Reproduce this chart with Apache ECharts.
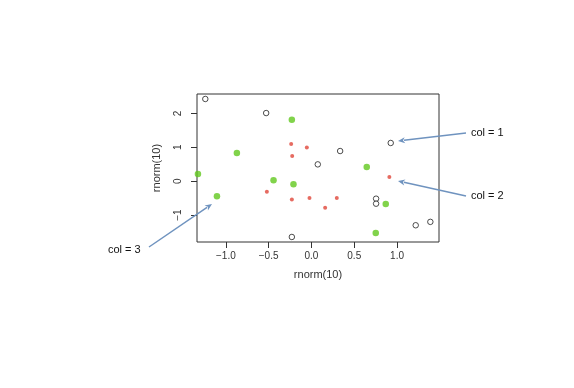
<!DOCTYPE html>
<html>
<head>
<meta charset="utf-8">
<script src="https://cdn.jsdelivr.net/npm/echarts@6/dist/echarts.min.js"></script>
<style>
html,body{margin:0;padding:0;background:#fff;}
#c{width:574px;height:388px;}
</style>
</head>
<body>
<div id="c"></div>
<script>
// col = 1 : black open circles
const blackX = [-1.240, -0.529, 0.926, 0.335, 0.074, 0.755, 0.755, 1.218, 1.389, -0.229];
const blackY = [2.425, 2.010, 1.127, 0.890, 0.496, -0.516, -0.664, -1.300, -1.200, -1.646];
// col = 2 : red dots
const redX = [-0.237, -0.225, -0.054, 0.910, -0.521, -0.229, -0.023, 0.296, 0.160];
const redY = [1.097, 0.743, 0.997, 0.124, -0.310, -0.537, -0.496, -0.496, -0.782];
// col = 3 : green dots
const greenX = [-0.229, -0.871, -1.326, -0.443, -0.210, -1.104, 0.646, 0.868, 0.751];
const greenY = [1.814, 0.832, 0.212, 0.024, -0.094, -0.448, 0.419, -0.673, -1.528];
// tick labels
const xTicks = [-1.0, -0.5, 0.0, 0.5, 1.0];
const yTicks = [-1, 0, 1, 2];
const annoTexts = ['col = 1', 'col = 2', 'col = 3'];

function pairs(xs, ys) { return xs.map((x, i) => [x, ys[i]]); }
const fmtX = v => (v < 0 ? '\u2212' : '') + Math.abs(v).toFixed(1);
const fmtY = v => (v < 0 ? '\u2212' : '') + Math.abs(v).toFixed(0);

const chart = echarts.init(document.getElementById('c'), null, {renderer: 'canvas'});

const axisFont = {fontFamily: 'Liberation Sans', fontSize: 10, color: '#333'};

const option = {
  backgroundColor: '#fff',
  animation: false,
  grid: {left: 197, right: 135, top: 94, bottom: 146, show: true, borderColor: '#333', borderWidth: 1, backgroundColor: 'transparent'},
  xAxis: {
    type: 'value', min: -1.337, max: 1.49,
    name: 'rnorm(10)', nameLocation: 'middle', nameGap: 27,
    nameTextStyle: {fontFamily: 'Liberation Sans', fontSize: 11, color: '#333'},
    axisLine: {show: false, onZero: false},
    splitLine: {show: false},
    axisTick: {show: true, inside: false, length: 6, customValues: xTicks, lineStyle: {color: '#333'}},
    axisLabel: Object.assign({margin: 9, customValues: xTicks, formatter: fmtX}, axisFont)
  },
  yAxis: {
    type: 'value', min: -1.794, max: 2.572,
    name: 'rnorm(10)', nameLocation: 'middle', nameGap: 35,
    nameTextStyle: {fontFamily: 'Liberation Sans', fontSize: 11, color: '#333'},
    axisLine: {show: false, onZero: false},
    splitLine: {show: false},
    axisTick: {show: true, inside: false, length: 6, customValues: yTicks, lineStyle: {color: '#333'}},
    axisLabel: Object.assign({margin: 14, rotate: 90, customValues: yTicks, formatter: fmtY}, axisFont)
  },
  series: [
    {type: 'scatter', name: 'col1', data: pairs(blackX, blackY), symbol: 'circle', symbolSize: 5.5,
     itemStyle: {color: '#fff', borderColor: '#222', borderWidth: 1}, z: 3},
    {type: 'scatter', name: 'col2', data: pairs(redX, redY), symbol: 'circle', symbolSize: 4,
     itemStyle: {color: '#e0463a'}, z: 3},
    {type: 'scatter', name: 'col3', data: pairs(greenX, greenY), symbol: 'circle', symbolSize: 6.5,
     itemStyle: {color: '#62c81e'}, z: 3, clip: true}
  ]
};
chart.setOption(option);

// Annotation arrows (callouts)
const annos = [
  {text: annoTexts[0], tx: 471, ty: 133, tail: [466, 133], head: [398, 141]},
  {text: annoTexts[1], tx: 471, ty: 196, tail: [466, 196], head: [398, 181]},
  {text: annoTexts[2], tx: 108, ty: 250, tail: [149, 247], head: [212, 204]}
];
const arrowColor = '#6f93bf';
const graphics = [];
annos.forEach(a => {
  const dx = a.head[0] - a.tail[0], dy = a.head[1] - a.tail[1];
  const len = Math.sqrt(dx * dx + dy * dy);
  const ux = dx / len, uy = dy / len;
  const hl = 7, hw = 3;
  const bx = a.head[0] - ux * hl, by = a.head[1] - uy * hl;
  graphics.push({type: 'line', shape: {x1: a.tail[0], y1: a.tail[1], x2: bx + ux * 1, y2: by + uy * 1},
    style: {stroke: arrowColor, lineWidth: 1.5}, z: 10});
  graphics.push({type: 'polygon', shape: {points: [
    [a.head[0], a.head[1]], [bx - uy * hw, by + ux * hw], [bx + ux * 2, by + uy * 2], [bx + uy * hw, by - ux * hw]
  ]}, style: {fill: arrowColor}, z: 10});
  graphics.push({type: 'text', x: a.tx, y: a.ty, style: {text: a.text, fill: '#111',
    font: '11px "Liberation Sans"', textVerticalAlign: 'middle', textAlign: 'left'}, z: 10});
});
chart.setOption({graphic: graphics});
</script>
</body>
</html>
